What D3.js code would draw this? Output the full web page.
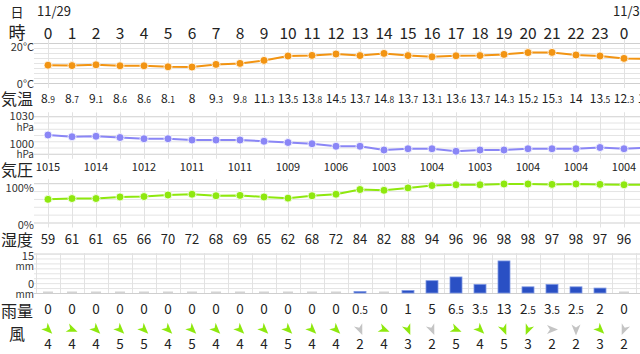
<!doctype html>
<html>
<head>
<meta charset="utf-8">
<title>時間別天気</title>
<script src="https://d3js.org/d3.v7.min.js"></script>
<style>
  body { margin: 0; background: #fff; }
  svg { display: block; font-family: "Noto Sans CJK JP", "Noto Sans", sans-serif; }
</style>
</head>
<body>
<script>
// hourly data, 11/29 0時 - 11/30 0時 (last line point runs off the right edge)
var hours = [0,1,2,3,4,5,6,7,8,9,10,11,12,13,14,15,16,17,18,19,20,21,22,23,0];
var dates = [{col: 0, text: "11/29"}, {col: 24, text: "11/30"}];
var temps = [8.9,8.7,9.1,8.6,8.6,8.1,8,9.3,9.8,11.3,13.5,13.8,14.5,13.7,14.8,13.7,13.1,13.6,13.7,14.3,15.2,15.3,14,13.5,12.3,12.1];
var pressure = [1015,1013.6,1014,1013,1012,1012,1011,1011,1011,1010,1009,1008,1006,1006,1003,1004,1004,1002,1003,1003,1004,1004,1004,1005,1004,1005];
var humidity = [59,61,61,65,66,70,72,68,69,65,62,68,72,84,82,88,94,96,96,98,98,97,98,97,96,96];
var rain = [0,0,0,0,0,0,0,0,0,0,0,0,0,0.5,0,1,5,6.5,3.5,13,2.5,3.5,2.5,2,0];
var windSpeed = [4,4,4,5,5,4,5,4,4,4,5,4,4,2,4,3,2,5,4,5,3,2,2,3,2];
// direction the wind comes from, degrees
var windFrom = [315,292.5,315,315,315,315,315,315,315,315,315,315,315,337.5,292.5,337.5,337.5,292.5,315,337.5,22.5,270,0,315,22.5];

var W = 640, H = 354;
var svg = d3.select("body").append("svg").attr("width", W).attr("height", H);

var x = d3.scaleLinear().domain([0, 24]).range([48, 624]);
var yT = d3.scaleLinear().domain([0, 20]).range([83, 43]);
var yP = d3.scaleLinear().domain([1000, 1030]).range([153.75, 116.25]);
var yH = d3.scaleLinear().domain([0, 100]).range([222.5, 183.2]);
var yR = d3.scaleLinear().domain([0, 15]).range([293, 256]);

// row titles
var titles = [["日", 11, 13], ["時", 31, 17], ["気温", 98, 16], ["気圧", 169, 16], ["湿度", 239, 16], ["雨量", 310, 16], ["風", 333, 16]];
svg.selectAll(".title").data(titles).enter().append("text")
  .attr("x", 17).attr("y", function(d) { return d[1]; })
  .attr("text-anchor", "middle").attr("dominant-baseline", "central")
  .attr("font-size", function(d) { return d[2]; })
  .attr("fill", "#222").text(function(d) { return d[0]; });

svg.selectAll(".date").data(dates).enter().append("text")
  .attr("x", function(d) { return x(d.col) - 11; }).attr("y", 10.5)
  .attr("dominant-baseline", "central").attr("font-size", 13).attr("fill", "#222")
  .text(function(d) { return d.text; });

svg.selectAll(".hour").data(hours).enter().append("text")
  .attr("x", function(d, i) { return x(i); }).attr("y", 31.5)
  .attr("text-anchor", "middle").attr("dominant-baseline", "central")
  .attr("font-size", 15.5).attr("fill", "#222").text(function(d) { return d; });

// panel grid
function panel(scale, ticks, centers) {
  var g = svg.append("g");
  var r = scale.range();
  g.selectAll("line.h").data(ticks).enter().append("line")
    .attr("x1", 34).attr("x2", W)
    .attr("y1", function(d) { return scale(d) + 0.5; }).attr("y2", function(d) { return scale(d) + 0.5; })
    .attr("stroke", function(d, i) { return (i == 0 || i == ticks.length - 1) ? "#cfcfcf" : "#e4e4e4"; });
  var xs = centers ? d3.range(26).map(function(i) { return x(i); }) : d3.range(26).map(function(i) { return x(i) - 12; });
  g.selectAll("line.v").data(xs).enter().append("line")
    .attr("x1", function(d) { return Math.round(d) + 0.5; }).attr("x2", function(d) { return Math.round(d) + 0.5; })
    .attr("y1", centers ? r[1] - 4 : r[1] - 3).attr("y2", centers ? r[0] + 5 : r[0])
    .attr("stroke", "#e2e2e2");
}
panel(yT, d3.range(0, 20.1, 2.5), true);
panel(yP, d3.range(1000, 1030.1, 5), true);
panel(yH, d3.range(0, 100.1, 20), true);
panel(yR, d3.range(0, 16.1, 2), false);

// axis labels
var axisLabels = [["20°C", 45.5, 11], ["0°C", 83, 11], ["1030", 115, 11], ["hPa", 126, 10], ["1000", 142.5, 11], ["hPa", 153.5, 10],
  ["100%", 187, 11], ["0%", 224, 11], ["15", 255, 11], ["mm", 265.5, 10], ["0", 282.5, 11], ["mm", 293, 10]];
svg.selectAll(".axl").data(axisLabels).enter().append("text")
  .attr("x", 34).attr("y", function(d) { return d[1]; })
  .attr("text-anchor", "end").attr("dominant-baseline", "central")
  .attr("font-size", function(d) { return d[2]; }).attr("fill", "#333")
  .text(function(d) { return d[0]; });

// line series
function series(data, scale, color) {
  var line = d3.line().x(function(d, i) { return x(i); }).y(function(d) { return scale(d); });
  svg.append("path").datum(data).attr("d", line)
    .attr("fill", "none").attr("stroke", color).attr("stroke-width", 2);
  svg.selectAll(null).data(data).enter().append("circle")
    .attr("cx", function(d, i) { return x(i); }).attr("cy", function(d) { return scale(d); })
    .attr("r", 4).attr("fill", color).attr("stroke", "#fff").attr("stroke-width", 0.8);
}
series(temps, yT, "#f29412");
series(pressure, yP, "#8a86f6");
series(humidity, yH, "#8ee80e");

// number labels with a smaller decimal part, sitting on the baseline
function decLabel(sel, big, small) {
  sel.each(function(d) {
    var t = d3.select(this);
    var s = String(d).split(".");
    t.append("tspan").attr("font-size", big).text(s[0]);
    if (s.length > 1) t.append("tspan").attr("font-size", small).text("." + s[1]);
  });
}

svg.selectAll(".tl").data(temps).enter().append("text")
  .attr("x", function(d, i) { return x(i); }).attr("y", 102.5)
  .attr("text-anchor", "middle").attr("fill", "#222")
  .call(decLabel, 12, 8.5);

svg.selectAll(".pl").data(pressure.filter(function(d, i) { return i % 2 == 0; })).enter().append("text")
  .attr("x", function(d, i) { return x(i * 2); }).attr("y", 166)
  .attr("text-anchor", "middle").attr("dominant-baseline", "central")
  .attr("font-size", 11).attr("fill", "#222").text(function(d) { return Math.round(d); });

svg.selectAll(".hl").data(humidity).enter().append("text")
  .attr("x", function(d, i) { return x(i); }).attr("y", 238.5)
  .attr("text-anchor", "middle").attr("dominant-baseline", "central")
  .attr("font-size", 13).attr("fill", "#222").text(function(d) { return d; });

// rain bars
svg.selectAll(".rb").data(rain).enter().append("rect")
  .attr("x", function(d, i) { return x(i) - (d > 0 ? 6 : 5); })
  .attr("width", function(d) { return d > 0 ? 12 : 10; })
  .attr("y", function(d) { return d > 0 ? Math.min(yR(d), yR(0) - 1.5) : yR(0) - 1.5; })
  .attr("height", function(d) { return d > 0 ? Math.max(yR(0) - yR(d), 1.5) : 1.5; })
  .attr("fill", function(d) { return d > 0 ? "#2a50c4" : "#d4d4d4"; })
  .attr("stroke", function(d) { return d > 0 ? "#7f98e4" : "none"; })
  .attr("stroke-width", 0.8);

svg.selectAll(".rl").data(rain).enter().append("text")
  .attr("x", function(d, i) { return x(i); }).attr("y", 313.5)
  .attr("text-anchor", "middle").attr("fill", "#222")
  .call(decLabel, 13.5, 10);

// wind arrows (pointing downwind)
var arrow = "M0,-6 L4.5,5 L0,2 L-4.5,5 Z";
svg.selectAll(".wa").data(windFrom).enter().append("path")
  .attr("d", arrow)
  .attr("transform", function(d, i) { return "translate(" + x(i) + ",329.5) rotate(" + (d + 180) + ")"; })
  .attr("fill", function(d, i) { return windSpeed[i] >= 3 ? "#8ee80e" : "#c4c4c4"; });

svg.selectAll(".wl").data(windSpeed).enter().append("text")
  .attr("x", function(d, i) { return x(i); }).attr("y", 342.5)
  .attr("text-anchor", "middle").attr("dominant-baseline", "central")
  .attr("font-size", 13.5).attr("fill", "#222").text(function(d) { return d; });
</script>
</body>
</html>
